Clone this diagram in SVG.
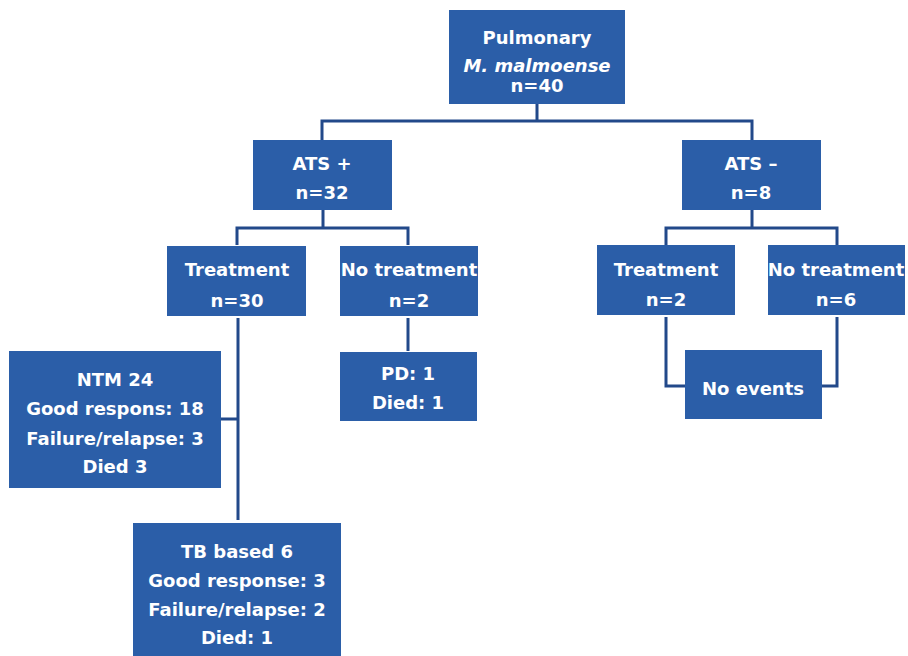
<svg xmlns="http://www.w3.org/2000/svg" width="908" height="656" viewBox="0 0 908 656">
<style>
.box{fill:#2b5ea8;}
.t{font-family:"DejaVu Sans",Verdana,sans-serif;font-weight:bold;font-size:18px;fill:#ffffff;text-anchor:middle;}
.i{font-style:italic;}
.c{fill:none;stroke:#22498a;stroke-width:3;}
</style>
<rect width="908" height="656" fill="#ffffff"/>
<g id="connectors">
<path class="c" d="M537 104V121M322 140V121H752V140"/>
<path class="c" d="M323 210V228M237 245V228H408V245"/>
<path class="c" d="M752 210V228M666 245V228H837V245"/>
<path class="c" d="M238 318V520M221 419H238"/>
<path class="c" d="M408 318V351"/>
<path class="c" d="M666 317V386H685M837 317V386H822"/>
</g>
<g id="root"><rect class="box" x="449" y="10" width="176" height="94"/>
<text class="t" x="537" y="44">Pulmonary</text>
<text class="t i" x="537" y="72">M. malmoense</text>
<text class="t" x="537" y="92">n=40</text></g>
<g id="atsplus"><rect class="box" x="253" y="140" width="139" height="70"/>
<text class="t" x="322" y="170">ATS +</text>
<text class="t" x="322" y="199">n=32</text></g>
<g id="atsminus"><rect class="box" x="682" y="140" width="139" height="70"/>
<text class="t" x="751" y="170">ATS –</text>
<text class="t" x="751" y="199">n=8</text></g>
<g id="treat1"><rect class="box" x="167" y="246" width="139" height="70"/>
<text class="t" x="237" y="276">Treatment</text>
<text class="t" x="237" y="307">n=30</text></g>
<g id="notreat1"><rect class="box" x="340" y="246" width="138" height="70"/>
<text class="t" x="409" y="276">No treatment</text>
<text class="t" x="409" y="307">n=2</text></g>
<g id="treat2"><rect class="box" x="597" y="245" width="138" height="70"/>
<text class="t" x="666" y="276">Treatment</text>
<text class="t" x="666" y="306">n=2</text></g>
<g id="notreat2"><rect class="box" x="768" y="245" width="137" height="70"/>
<text class="t" x="836" y="276">No treatment</text>
<text class="t" x="836" y="306">n=6</text></g>
<g id="ntm"><rect class="box" x="9" y="351" width="212" height="137"/>
<text class="t" x="115" y="386">NTM 24</text>
<text class="t" x="115" y="415">Good respons: 18</text>
<text class="t" x="115" y="445">Failure/relapse: 3</text>
<text class="t" x="115" y="473">Died 3</text></g>
<g id="pd"><rect class="box" x="340" y="352" width="137" height="69"/>
<text class="t" x="408" y="380">PD: 1</text>
<text class="t" x="408" y="409">Died: 1</text></g>
<g id="noevents"><rect class="box" x="685" y="350" width="137" height="69"/>
<text class="t" x="753" y="395">No events</text></g>
<g id="tb"><rect class="box" x="133" y="523" width="208" height="140"/>
<text class="t" x="237" y="558">TB based 6</text>
<text class="t" x="237" y="587">Good response: 3</text>
<text class="t" x="237" y="616">Failure/relapse: 2</text>
<text class="t" x="237" y="644">Died: 1</text></g>
</svg>
